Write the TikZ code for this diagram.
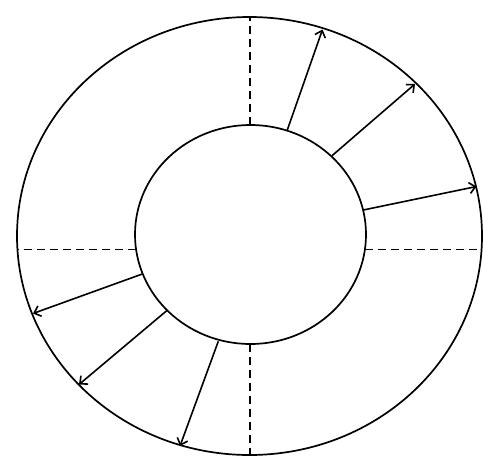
\documentclass[tikz,border=0pt]{standalone}
\usetikzlibrary{arrows.meta,shapes.geometric}
\begin{document}
\begin{tikzpicture}[x=1pt,y=-1pt,
  ring/.style={draw,ellipse,line width=1.7pt,inner sep=0pt},
  divider/.style={line width=1.6pt,dash pattern=on 8pt off 5pt},
  flow/.style={line width=1.6pt,-{Straight Barb[length=6pt,width=11pt,line width=1.6pt]}}]
\useasboundingbox (0,0) rectangle (500,474);
\node[ring,minimum width=465pt,minimum height=438pt] (outer) at (249.5,236) {};
\node[ring,minimum width=231pt,minimum height=219pt] (inner) at (250.5,234.5) {};
% dashed dividers
\coordinate (t1) at (250,125.3); \coordinate (t2) at (250,17.3);
\coordinate (b1) at (250,343.7); \coordinate (b2) at (250,454.7);
\coordinate (l1) at (136,249.3); \coordinate (l2) at (17.4,249.3);
\coordinate (r1) at (365,249.3); \coordinate (r2) at (481.6,249.3);
\draw[divider] (t1) -- (t2);
\draw[divider] (b1) -- (b2);
\draw[divider] (l1) -- (l2);
\draw[divider] (r1) -- (r2);
% arrows
\coordinate (a1s) at (287.3,130); \coordinate (a1e) at (322.5,29.5);
\coordinate (a2s) at (332,155.7); \coordinate (a2e) at (415,84);
\coordinate (a3s) at (363.3,210); \coordinate (a3e) at (476.5,186.5);
\coordinate (a4s) at (142.3,274); \coordinate (a4e) at (33,313.5);
\coordinate (a5s) at (166.7,310.7); \coordinate (a5e) at (79,384.5);
\coordinate (a6s) at (218.3,341.3); \coordinate (a6e) at (180,446);
\draw[flow] (a1s) -- (a1e);
\draw[flow] (a2s) -- (a2e);
\draw[flow] (a3s) -- (a3e);
\draw[flow] (a4s) -- (a4e);
\draw[flow] (a5s) -- (a5e);
\draw[flow] (a6s) -- (a6e);
\end{tikzpicture}
\end{document}
